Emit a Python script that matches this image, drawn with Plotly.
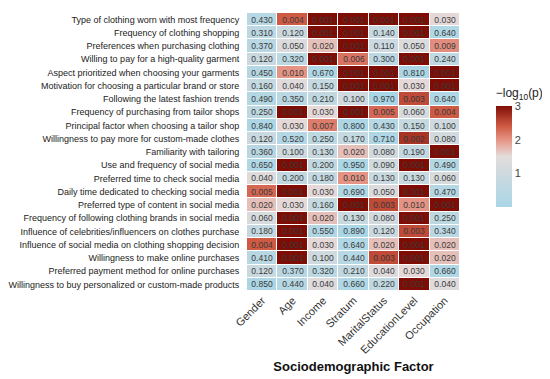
import numpy as np
import plotly.graph_objects as go

factors = ["Gender", "Age", "Income", "Stratum", "MaritalStatus", "EducationLevel", "Occupation"]

variables = [
    "Type of clothing worn with most frequency",
    "Frequency of clothing shopping",
    "Preferences when purchasing clothing",
    "Willing to pay for a high-quality garment",
    "Aspect prioritized when choosing your garments",
    "Motivation for choosing a particular brand or store",
    "Following the latest fashion trends",
    "Frequency of purchasing from tailor shops",
    "Principal factor when choosing a tailor shop",
    "Willingness to pay more for custom-made clothes",
    "Familiarity with tailoring",
    "Use and frequency of social media",
    "Preferred time to check social media",
    "Daily time dedicated to checking social media",
    "Preferred type of content in social media",
    "Frequency of following clothing brands in social media",
    "Influence of celebrities/influencers on clothes purchase",
    "Influence of social media on clothing shopping decision",
    "Willingness to make online purchases",
    "Preferred payment method for online purchases",
    "Willingness to buy personalized or custom-made products",
]

p_values = [
    [0.430, 0.004, 0.001, 0.001, 0.001, 0.001, 0.030],
    [0.310, 0.120, 0.001, 0.001, 0.140, 0.001, 0.640],
    [0.370, 0.050, 0.020, 0.001, 0.110, 0.050, 0.009],
    [0.120, 0.320, 0.001, 0.006, 0.300, 0.001, 0.240],
    [0.450, 0.010, 0.670, 0.001, 0.001, 0.810, 0.001],
    [0.160, 0.040, 0.150, 0.001, 0.001, 0.030, 0.001],
    [0.490, 0.350, 0.210, 0.100, 0.970, 0.003, 0.640],
    [0.250, 0.001, 0.030, 0.001, 0.005, 0.060, 0.004],
    [0.840, 0.030, 0.007, 0.800, 0.430, 0.150, 0.100],
    [0.120, 0.520, 0.250, 0.170, 0.710, 0.002, 0.080],
    [0.360, 0.100, 0.130, 0.020, 0.080, 0.190, 0.001],
    [0.650, 0.001, 0.200, 0.950, 0.090, 0.001, 0.490],
    [0.040, 0.200, 0.180, 0.010, 0.130, 0.130, 0.060],
    [0.005, 0.001, 0.030, 0.690, 0.050, 0.001, 0.470],
    [0.020, 0.030, 0.160, 0.001, 0.003, 0.010, 0.001],
    [0.060, 0.001, 0.020, 0.130, 0.080, 0.001, 0.250],
    [0.180, 0.001, 0.550, 0.890, 0.120, 0.003, 0.340],
    [0.004, 0.001, 0.030, 0.640, 0.020, 0.001, 0.020],
    [0.410, 0.001, 0.100, 0.440, 0.003, 0.001, 0.020],
    [0.120, 0.370, 0.320, 0.210, 0.040, 0.030, 0.660],
    [0.850, 0.440, 0.040, 0.660, 0.220, 0.001, 0.040],
]

p = np.array(p_values)
z = -np.log10(p)
text = [[f"{v:.3f}" for v in row] for row in p_values]

colorscale = [
    [0.0, "#a9d6e6"],
    [0.3, "#c9d9e0"],
    [0.5, "#e4dcdc"],
    [0.65, "#e79a8c"],
    [0.8, "#cf5a44"],
    [1.0, "#7e0d05"],
]

fig = go.Figure(go.Heatmap(
    z=z,
    x=factors,
    y=variables,
    text=text,
    texttemplate="%{text}",
    textfont=dict(size=8.5, color="#3a3a3a", family="Liberation Sans, Arial"),
    colorscale=colorscale,
    zmin=0.0, zmax=3,
    xgap=1, ygap=1,
    colorbar=dict(
        title=dict(text="−log<sub>10</sub>(p)", side="top",
                   font=dict(size=12, color="#222", family="Liberation Sans, Arial")),
        tickvals=[1, 2, 3],
        ticks="",
        outlinewidth=0,
        thickness=16,
        thicknessmode="pixels",
        len=122, lenmode="pixels",
        x=1.121, xanchor="left",
        y=0.52, yanchor="middle",
        ypad=0,
        tickfont=dict(size=11, color="#444", family="Liberation Sans, Arial"),
    ),
))

fig.update_layout(
    width=550, height=379,
    margin=dict(l=239, r=80, t=5, b=96),
    paper_bgcolor="white",
    plot_bgcolor="white",
    font=dict(family="Liberation Sans, Arial", color="#222"),
)
fig.update_xaxes(
    tickangle=-45,
    tickfont=dict(size=11, color="#333"),
    showgrid=False, zeroline=False, ticks="",
    title=dict(text="<b>Sociodemographic Factor</b>", font=dict(size=13, color="#111"), standoff=6),
)
fig.update_yaxes(
    autorange="reversed",
    tickfont=dict(size=9, color="#222"),
    showgrid=False, zeroline=False,
    ticks="outside", ticklen=5, tickcolor="rgba(0,0,0,0)",
    automargin=False,
)

fig.write_html("out.html")
